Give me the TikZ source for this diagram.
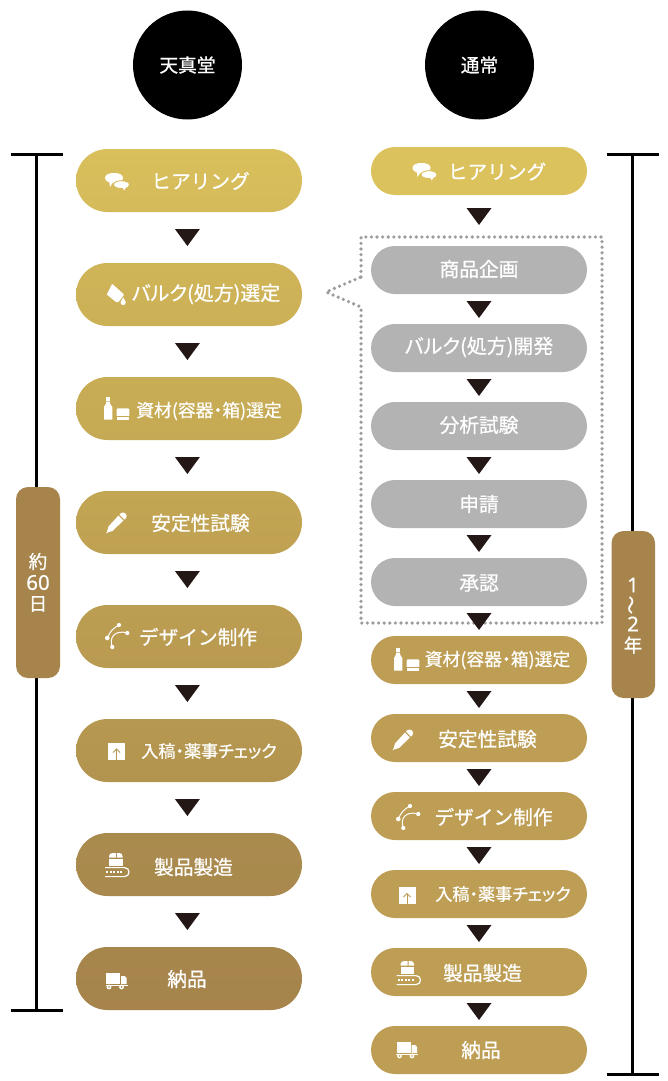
\documentclass[tikz,border=0pt]{standalone}
\usepackage{fontspec}
\usetikzlibrary{shapes.misc,calc}
\newfontfamily\jp{Noto Sans CJK JP}[FakeBold=0.7]
\newfontfamily\jpp{Noto Sans CJK JP}[FakeBold=0.7,RawFeature=+palt]
\newfontfamily\jpnum{Noto Sans}[FakeBold=0.5]
\definecolor{tricol}{HTML}{231815}
\definecolor{gry}{HTML}{B3B3B3}
\definecolor{dotc}{HTML}{9C9C9C}
\definecolor{brn}{HTML}{A6844C}
\definecolor{rgold}{HTML}{BE9E54}
\definecolor{rtop}{HTML}{DBC25D}
\definecolor{La}{HTML}{D9C05C}\definecolor{Lb}{HTML}{D5BA5A}
\definecolor{Lc}{HTML}{CFB458}\definecolor{Ld}{HTML}{CBB056}
\definecolor{Le}{HTML}{C9AD55}\definecolor{Lf}{HTML}{C5A954}
\definecolor{Lg}{HTML}{C3A653}\definecolor{Lh}{HTML}{BFA152}
\definecolor{Li}{HTML}{BC9E52}\definecolor{Lj}{HTML}{B99A51}
\definecolor{Lk}{HTML}{B69850}\definecolor{Ll}{HTML}{B2944F}
\definecolor{Lm}{HTML}{AA8B4E}\definecolor{Ln}{HTML}{A9894D}
\definecolor{Lo}{HTML}{A7864C}\definecolor{Lp}{HTML}{A6844C}
\tikzset{
  pillL/.style={rounded rectangle,minimum width=226pt,minimum height=63pt,inner sep=0pt},
  pillR/.style={rounded rectangle,minimum width=216pt,minimum height=48pt,inner sep=0pt},
  lab/.style={text=white,inner sep=0pt,font=\jp\fontsize{19.7}{20}\selectfont},
  labp/.style={text=white,inner sep=0pt,font=\jpp\fontsize{19.9}{20}\selectfont},
  labs/.style={text=white,inner sep=0pt,font=\jpp\fontsize{17.8}{20}\selectfont},
  labt/.style={text=white,inner sep=0pt,font=\jpp\fontsize{17.1}{20}\selectfont},
  badge/.style={fill=brn,rounded corners=12pt},
  badgetxt/.style={text=white,inner sep=0pt,font=\jp\fontsize{18.5}{20}\selectfont},
  badgenum/.style={text=white,inner sep=0pt,font=\jpnum\fontsize{20.5}{22}\selectfont},
  bar/.style={line width=3pt,black},
  ico/.style={fill=white,draw=none},
  headc/.style={circle,fill=black,minimum size=109pt,inner sep=0pt},
  headt/.style={text=white,inner sep=0pt,font=\jp\fontsize{18.7}{20}\selectfont},
  dotbox/.style={dotc,line width=3.6pt,line cap=round,dash pattern=on 0pt off 5.6pt}
}
\newcommand{\tri}[4]{\fill[tricol] ($(#1.south)!.5!(#2.north)+(#3,#4)$) ++(-12.5,-8.5) -- ++(25,0) -- ++(-12.5,17) -- cycle;}
\newcommand{\ichat}[3]{\begin{scope}[shift={(#1,#2)}]
  \fill[ico] (-12,-4) .. controls (-12,-7.5) and (-8,-9) .. (-3,-9) .. controls (2,-9) and (6,-7.5) .. (6,-4) .. controls (6,-0.5) and (2,1) .. (-3,1) -- (-4.5,1) -- (-7,5) -- (-7.5,0.6) .. controls (-10,0) and (-12,-2) .. (-12,-4) -- cycle;
  \fill[white,draw=#3,line width=0.9pt] (-3.5,2.7) .. controls (-3.5,0.5) and (0,-1.3) .. (4.5,-1.3) .. controls (9,-1.3) and (12.5,0.5) .. (12.5,2.7) .. controls (12.5,4.7) and (10.5,6) .. (9,6.3) -- (7.5,10) -- (5.5,6.6) .. controls (0,6.6) and (-3.5,5) .. (-3.5,2.7) -- cycle;
\end{scope}}
\newcommand{\ibucket}[2]{\begin{scope}[shift={(#1,#2)}]
  \fill[ico] (-4.5,-10.5) -- (-3,-9.5) -- (7,-0.5) -- (7,1) -- (2,7.5) -- (-0.5,7.5) -- (-9.7,0) -- cycle;
  \fill[ico] (6.7,3) .. controls (7.5,5) and (9.3,6.3) .. (9.3,8) .. controls (9.3,11.3) and (4,11.3) .. (4,8) .. controls (4,6.3) and (6,5) .. (6.7,3) -- cycle;
\end{scope}}
\newcommand{\ibottle}[2]{\begin{scope}[shift={(#1,#2)}]
  \fill[ico] (-12,-11.7) rectangle (-8,-8.5);
  \fill[ico] (-12,-7.5) -- (-8,-7.5) -- (-8,-5.5) -- (-5.7,-2) -- (-5.7,10.7) -- (-14,10.7) -- (-14,-2) -- (-12,-5.5) -- cycle;
  \fill[ico] (-0.3,-0.7) -- (10.3,-0.7) -- (11.3,0.3) -- (11.3,6.8) -- (-1.3,6.8) -- (-1.3,0.3) -- cycle;
  \fill[ico] (-1.3,8) rectangle (11.3,11);
\end{scope}}
\newcommand{\ipen}[2]{\begin{scope}[shift={(#1,#2)}]
  \fill[ico] (4.5,-10) .. controls (6,-11) and (8,-10.5) .. (9,-9.5) .. controls (10.5,-8) and (10.5,-6.5) .. (9.5,-5) -- (8,-3.5) -- (3,-8.5) -- cycle;
  \fill[ico] (2,-7.5) -- (7,-2.5) -- (-4,8) -- (-9,9.5) -- (-10.5,10.5) -- (-9.5,8.5) -- (-8,3.5) -- cycle;
\end{scope}}
\newcommand{\ibez}[2]{\begin{scope}[shift={(#1,#2)}]
  \draw[white,line width=1pt] (-9,2) .. controls (-6.5,-5) and (-3,-8) .. (2.5,-11)
     (-4.2,11) .. controls (-8,1) and (-1,-6.5) .. (10.8,-3);
  \fill[ico] (2.5,-11) circle (2.1) (10.8,-3) circle (2.1) (-9.2,2) circle (2.3) (-4.2,11) circle (2.1);
\end{scope}}
\newcommand{\iup}[3]{\begin{scope}[shift={(#1,#2)}]
  \fill[ico] (-8.5,-8.5) rectangle (8.5,8.5);
  \fill[#3] (-0.4,8.5) rectangle (0.4,-2);
  \draw[#3,line width=0.8pt] (-3.5,1.5) -- (0,-2) -- (3.5,1.5);
\end{scope}}
\newcommand{\iconv}[2]{\begin{scope}[shift={(#1,#2)}]
  \fill[ico] (-8,-8.4) -- (-8,-10) .. controls (-8,-12) and (-6,-13) .. (-4,-13) -- (-1,-13) -- (-1,-8.4) -- cycle;
  \fill[ico] (0,-13) -- (2,-13) .. controls (4,-13) and (5.5,-12) .. (5.5,-10) -- (5.5,-8.4) -- (0,-8.4) -- cycle;
  \fill[ico] (-8,-7.5) rectangle (5.5,0);
  \draw[white,line width=1.2pt] (-12,1.6) -- (7.5,1.6) .. controls (13.5,1.6) and (13.5,10.6) .. (7.5,10.6) -- (-12,10.6);
  \foreach \q in {-10,-6.5,-3,0.5,4}{\fill[ico] (\q-1,5) rectangle (\q+1,7.2);}
\end{scope}}
\newcommand{\itruck}[3]{\begin{scope}[shift={(#1,#2)}]
  \fill[ico] (-10.5,-7.7) rectangle (3.5,3.2);
  \fill[ico] (4.5,-5) -- (8,-5) -- (10.2,-3) -- (10.2,3.2) -- (4.5,3.2) -- cycle;
  \fill[ico] (-11,4.2) rectangle (11,5.4);
  \fill[ico] (-7.5,6) circle (2.4) (5,6) circle (2.4);
  \fill[#3] (-7.5,6) circle (0.9) (5,6) circle (0.9);
\end{scope}}
\begin{document}
\begin{tikzpicture}[x=1pt,y=-1pt]
\useasboundingbox (0,0) rectangle (668,1081);
% headers
\node[headc] (hl) at (187.5,65) {};
\node[headt] (hlt) at (hl.center) {天真堂};
\node[headc] (hr) at (479.5,65) {};
\node[headt] (hrt) at (hr.center) {通常};
% brackets
\coordinate (ltl) at (11,154.5);\coordinate (ltr) at (62.5,154.5);\coordinate (lt) at (36,154.5);
\coordinate (lbl) at (11,1010);\coordinate (lbr) at (62.5,1010);\coordinate (lb) at (36,1010);
\draw[bar] (ltl)--(ltr); \draw[bar] (lbl)--(lbr); \draw[bar] (lt)--(lb);
\coordinate (rtl) at (607,154.5);\coordinate (rtr) at (659,154.5);\coordinate (rt) at (632.5,154.5);
\coordinate (rbl) at (607,1074.5);\coordinate (rbr) at (659,1074.5);\coordinate (rb) at (632.5,1074.5);
\draw[bar] (rtl)--(rtr); \draw[bar] (rbl)--(rbr); \draw[bar] (rt)--(rb);
% badges
\fill[badge] (16,487) rectangle (60,678);
\node[badgetxt] (bl1) at (38,561.5) {約};
\node[badgenum] (bl2) at (38,582.5) {60};
\node[badgetxt] (bl3) at (38,604) {日};
\fill[badge] (611.5,531) rectangle (655,698);
\node[badgenum] (br1) at (633,585) {1};
\node[badgetxt,rotate=90] (br2) at (633,605) {〜};
\node[badgenum] (br3) at (633,624) {2};
\node[badgetxt] (br4) at (633,645) {年};
% dotted callout
\draw[dotbox] (361,277) -- (361,237) -- (602,237) -- (602,623) -- (361,623) -- (361,307) -- (326,292) -- cycle;
% left pills
\node[pillL,top color=La,bottom color=Lb] (l1) at (189,180.5) {};
\node[pillL,top color=Lc,bottom color=Ld] (l2) at (189,294.5) {};
\node[pillL,top color=Le,bottom color=Lf] (l3) at (189,408.5) {};
\node[pillL,top color=Lg,bottom color=Lh] (l4) at (189,522.5) {};
\node[pillL,top color=Li,bottom color=Lj] (l5) at (189,636.5) {};
\node[pillL,top color=Lk,bottom color=Ll] (l6) at (189,750.5) {};
\node[pillL,top color=Lm,bottom color=Ln] (l7) at (189,864.5) {};
\node[pillL,top color=Lo,bottom color=Lp] (l8) at (189,978.5) {};
\foreach \a/\b in {l1/l2,l2/l3,l3/l4,l4/l5,l5/l6,l6/l7,l7/l8}{\tri{\a}{\b}{-1.6}{0}}
\node[lab] (lt1) at (200.5,181) {ヒアリング};
\node[labp] (lt2) at (206,294) {バルク(処方)選定};
\node[labs] (lt3) at (209,411) {資材(容器・箱)選定};
\node[lab] (lt4) at (200.5,523) {安定性試験};
\node[lab] (lt5) at (198,637) {デザイン制作};
\node[labt] (lt6) at (209,751) {入稿・薬事チェック};
\node[lab] (lt7) at (193.5,867) {製品製造};
\node[lab] (lt8) at (187,979) {納品};
\ichat{117}{182}{Lb}
\ibucket{116.5}{294.5}
\ibottle{118}{409}
\ipen{116.5}{523}
\ibez{116.5}{636}
\iup{116.5}{751}{Lk}
\iconv{117}{866}
\itruck{116.5}{981}{Lo}
% right pills
\node[pillR,fill=rtop] (r1) at (479,171) {};
\node[pillR,fill=gry] (r2) at (479,270) {};
\node[pillR,fill=gry] (r3) at (479,348) {};
\node[pillR,fill=gry] (r4) at (479,426) {};
\node[pillR,fill=gry] (r5) at (479,504) {};
\node[pillR,fill=gry] (r6) at (479,582) {};
\node[pillR,fill=rgold] (r7) at (479,660) {};
\node[pillR,fill=rgold] (r8) at (479,738) {};
\node[pillR,fill=rgold] (r9) at (479,816) {};
\node[pillR,fill=rgold] (r10) at (479,894) {};
\node[pillR,fill=rgold] (r11) at (479,972) {};
\node[pillR,fill=rgold] (r12) at (479,1050) {};
\tri{r1}{r2}{0}{-4}
\foreach \a/\b in {r2/r3,r3/r4,r4/r5,r5/r6,r6/r7,r7/r8,r8/r9,r9/r10,r10/r11,r11/r12}{\tri{\a}{\b}{0}{0.5}}
\node[lab] (rt1) at (497,171.5) {ヒアリング};
\node[lab] (rt2) at (479,269) {商品企画};
\node[labp] (rt3) at (479,347) {バルク(処方)開発};
\node[lab] (rt4) at (479,425) {分析試験};
\node[lab] (rt5) at (479,504) {申請};
\node[lab] (rt6) at (479,583) {承認};
\node[labs] (rt7) at (497.5,660) {資材(容器・箱)選定};
\node[lab] (rt8) at (487.5,739) {安定性試験};
\node[lab] (rt9) at (493.5,817) {デザイン制作};
\node[labt] (rt10) at (503,894) {入稿・薬事チェック};
\node[lab] (rt11) at (482.5,973) {製品製造};
\node[lab] (rt12) at (481,1050) {納品};
\ichat{424.5}{172}{rtop}
\ibottle{408}{660}
\ipen{403}{740}
\ibez{407.5}{817}
\iup{407}{895.5}{rgold}
\iconv{408.5}{974}
\itruck{407}{1050}{rgold}
\end{tikzpicture}
\end{document}
